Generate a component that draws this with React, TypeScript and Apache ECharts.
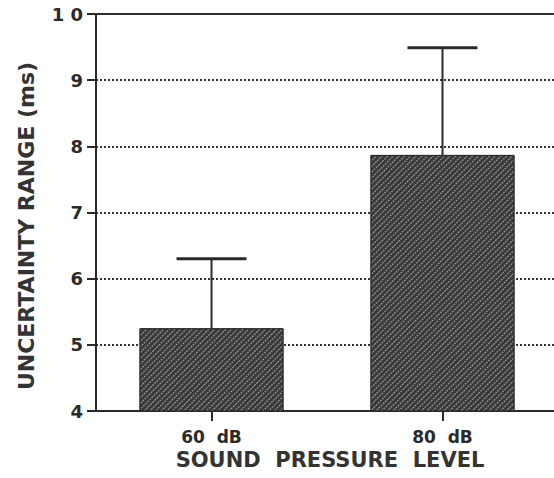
import React, { useEffect, useRef } from "react";
import * as echarts from "echarts";

const categories = ["60  dB", "80  dB"];
const meanValues = [5.25, 7.87];
const upperValues = [6.3, 9.49];
const yTicks = { min: 4, max: 10, interval: 1 };
const xTitle = "SOUND  PRESSURE  LEVEL";
const yTitle = "UNCERTAINTY RANGE (ms)";

export default function App() {
  const ref = useRef<HTMLDivElement>(null);
  useEffect(() => {
    if (!ref.current) return;
    const chart = echarts.init(ref.current, undefined, { renderer: "svg" });
    const font = "DejaVu Sans";
    const ink = "#2a2a2a";
    chart.setOption({
      animation: false,
      backgroundColor: "#ffffff",
      aria: { enabled: true, decal: { show: true } },
      grid: {
        left: 96,
        top: 14,
        width: 462,
        height: 397,
        show: true,
        borderColor: ink,
        borderWidth: 2,
        backgroundColor: "transparent",
      },
      xAxis: {
        type: "category",
        data: categories,
        boundaryGap: true,
        axisLine: { show: true, lineStyle: { color: ink, width: 2 } },
        axisTick: { show: true, alignWithLabel: true, length: 10, lineStyle: { color: ink, width: 2 } },
        axisLabel: {
          margin: 17,
          color: ink,
          fontFamily: font,
          fontWeight: "bold",
          fontSize: 17,
        },
        splitLine: { show: false },
      },
      yAxis: {
        type: "value",
        min: yTicks.min,
        max: yTicks.max,
        interval: yTicks.interval,
        axisLine: { show: true, lineStyle: { color: ink, width: 2 } },
        axisTick: { show: true, length: 9, lineStyle: { color: ink, width: 2 } },
        axisLabel: {
          margin: 13,
          color: ink,
          fontFamily: font,
          fontWeight: "bold",
          fontSize: 18,
          formatter: (v: number) => (v === 10 ? "1 0" : String(v)),
        },
        splitLine: {
          show: true,
          lineStyle: { color: "#333", width: 2, type: [2, 2] },
        },
      },
      series: [
        {
          type: "bar",
          data: meanValues,
          barWidth: 144,
          itemStyle: {
            color: "#3a3a3a",
            borderColor: "#2a2a2a",
            borderWidth: 1,
            decal: {
              symbol: "rect",
              symbolSize: 1,
              color: "rgba(255,255,255,0.55)",
              backgroundColor: null,
              dashArrayX: [[2, 1]],
              dashArrayY: [1, 3],
              rotation: -Math.PI / 4,
            },
          },
          z: 3,
        },
        {
          type: "custom",
          data: meanValues.map((m, i) => [i, m, upperValues[i]]),
          z: 4,
          renderItem: (params: any, api: any) => {
            const x = api.value(0);
            const base = api.coord([x, api.value(1)]);
            const top = api.coord([x, api.value(2)]);
            const half = 35;
            const style = { stroke: ink, lineWidth: 2 };
            return {
              type: "group",
              children: [
                { type: "line", shape: { x1: base[0], y1: base[1], x2: top[0], y2: top[1] }, style },
                { type: "line", shape: { x1: top[0] - half, y1: top[1], x2: top[0] + half, y2: top[1] }, style: { stroke: ink, lineWidth: 3 } },
              ],
            };
          },
        },
      ],
      graphic: [
        {
          type: "text",
          x: 330,
          y: 460,
          style: {
            text: xTitle,
            fill: "#333",
            font: `bold 21px "${font}"`,
            align: "center",
            verticalAlign: "middle",
          },
        },
        {
          type: "text",
          x: 26,
          y: 226,
          rotation: Math.PI / 2,
          style: {
            text: yTitle,
            fill: "#333",
            font: `bold 22px "${font}"`,
            align: "center",
            verticalAlign: "middle",
          },
        },
      ],
    });
    return () => chart.dispose();
  }, []);
  return (
    <div style={{ position: "fixed", left: 0, top: 0, width: 554, height: 478, overflow: "hidden" }}>
      <div ref={ref} style={{ width: 580, height: 478 }} />
    </div>
  );
}
